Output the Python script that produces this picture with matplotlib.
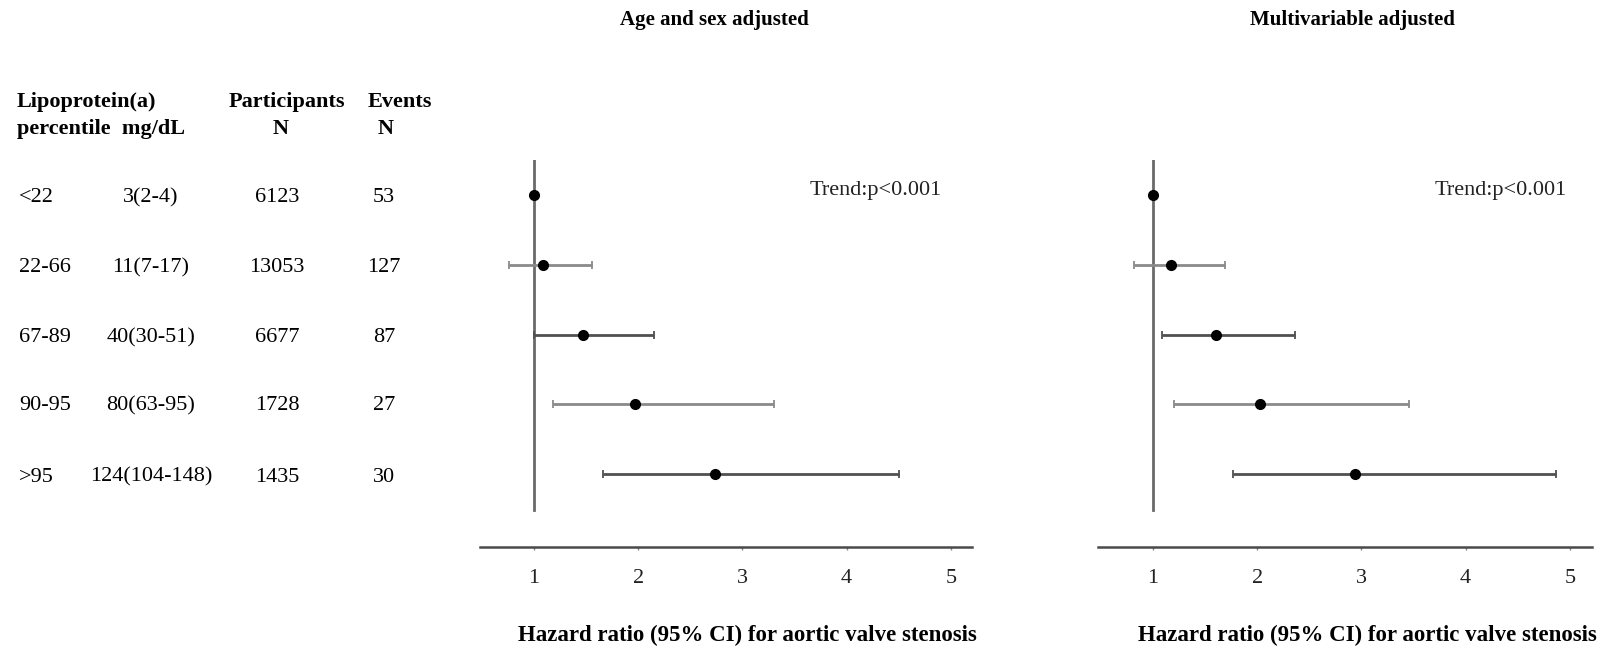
import matplotlib
matplotlib.use("Agg")
import matplotlib.pyplot as plt
import numpy as np

plt.rcParams['font.family'] = ['Liberation Serif', 'DejaVu Serif']

# table data
percentiles = ["<22", "22-66", "67-89", "90-95", ">95"]
lpa_mgdl = ["3(2-4)", "11(7-17)", "40(30-51)", "80(63-95)", "124(104-148)"]
participants = [6123, 13053, 6677, 1728, 1435]
events = [53, 127, 87, 27, 30]

# hazard ratios
hr_age = [1.0, 1.09, 1.47, 1.97, 2.74]
lo_age = [1.0, 0.76, 1.0, 1.18, 1.66]
hi_age = [1.0, 1.56, 2.15, 3.30, 4.50]

hr_multi = [1.0, 1.17, 1.60, 2.03, 2.94]
lo_multi = [1.0, 0.82, 1.09, 1.20, 1.77]
hi_multi = [1.0, 1.69, 2.36, 3.46, 4.87]

titles = ["Age and sex adjusted", "Multivariable adjusted"]
trend_txt = "Trend:p<0.001"
xlabel = "Hazard ratio (95% CI) for aortic valve stenosis"
ticks = [1, 2, 3, 4, 5]

W, H = 1619, 647
fig = plt.figure(figsize=(W / 100, H / 100), dpi=100)


def fx(px):
    return px / W


def fy(py):
    return 1 - py / H


# ---- left table ----
fs = 16
row_y = [198, 268, 338, 406, 477]
fig.text(fx(17), fy(102), "Lipoprotein(a)", fontsize=fs, fontweight='bold', va='center')
fig.text(fx(17), fy(129), "percentile  mg/dL", fontsize=fs, fontweight='bold', va='center')
fig.text(fx(287), fy(102), "Participants", fontsize=fs, fontweight='bold', va='center', ha='center')
fig.text(fx(281), fy(129), "N", fontsize=fs, fontweight='bold', va='center', ha='center')
fig.text(fx(400), fy(102), "Events", fontsize=fs, fontweight='bold', va='center', ha='center')
fig.text(fx(386), fy(129), "N", fontsize=fs, fontweight='bold', va='center', ha='center')

for i in range(len(percentiles)):
    y = fy(row_y[i])
    fig.text(fx(19), y, percentiles[i], fontsize=fs, va='center')
    fig.text(fx(151), y, lpa_mgdl[i], fontsize=fs, va='center', ha='center')
    fig.text(fx(277), y, str(participants[i]), fontsize=fs, va='center', ha='center')
    fig.text(fx(384), y, str(events[i]), fontsize=fs, va='center', ha='center')

# ---- forest panels ----
panels = [
    (480, 972, 534, hr_age, lo_age, hi_age),
    (1098, 1592, 1153, hr_multi, lo_multi, hi_multi),
]
unit = 104.2
top_px, bot_px = 160, 547
row_gap = 69.8
first_row = 195
bar_colors = ['#505050', '#8a8a8a', '#505050', '#8a8a8a', '#505050']

for k, (x0, x1, x_one, hr, lo, hi) in enumerate(panels):
    ax = fig.add_axes([fx(x0), fy(bot_px), fx(x1 - x0), (bot_px - top_px) / H])
    ax.set_xlim(1 + (x0 - x_one) / unit, 1 + (x1 - x_one) / unit)
    y_top = -(first_row - top_px) / row_gap
    y_bot = 4 + (bot_px - 474) / row_gap
    ax.set_ylim(y_bot, y_top)

    rows = np.arange(len(hr))
    ax.plot([1, 1], [y_top, 4 + (510 - 474) / row_gap], color='#6a6a6a', lw=2, zorder=1)
    for i in rows:
        h, l, u = hr[i], lo[i], hi[i]
        if u > l:
            ax.errorbar(h, i, xerr=[[h - l], [u - h]], fmt='none', ecolor=bar_colors[i],
                        elinewidth=2, capsize=3, capthick=1.3, zorder=2)
    ax.plot(hr, rows, 'o', color='black', markersize=7, zorder=3)

    for s in ['top', 'left', 'right']:
        ax.spines[s].set_visible(False)
    ax.spines['bottom'].set_color('#4a4a4a')
    ax.spines['bottom'].set_linewidth(1.8)
    ax.set_yticks([])
    ax.set_xticks(ticks)
    ax.tick_params(axis='x', length=2, width=1, color='#888888', pad=14,
                   labelsize=fs, labelcolor='#222222')

    cx_title = [714, 1352][k]
    fig.text(fx(cx_title), fy(20), titles[k], fontsize=15, fontweight='bold',
             ha='center', va='center')
    trend_x = [942, 1567][k]
    fig.text(fx(trend_x), fy(190), trend_txt, fontsize=fs, ha='right', va='center',
             color='#222222')
    cx_label = [747, 1367][k]
    fig.text(fx(cx_label), fy(635), xlabel, fontsize=16.5, fontweight='bold',
             ha='center', va='center')

fig.savefig("out.png", dpi=100)
